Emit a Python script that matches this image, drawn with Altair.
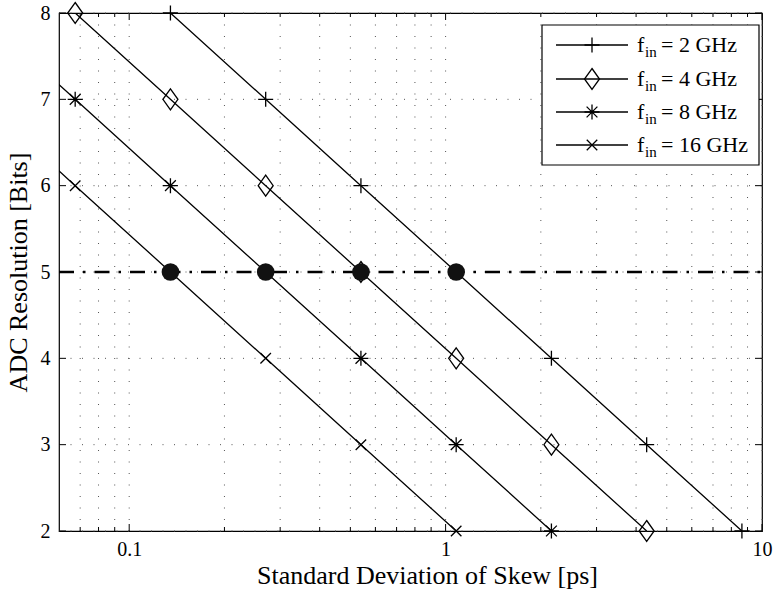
import altair as alt
import pandas as pd

# ---- data ----
bits = [2, 3, 4, 5, 6, 7, 8]
series_names = ["2 GHz", "4 GHz", "8 GHz", "16 GHz"]
skew_2ghz = [8.64, 4.32, 2.16, 1.08, 0.54, 0.27, 0.135]
skew_4ghz = [4.32, 2.16, 1.08, 0.54, 0.27, 0.135, 0.0675]
skew_8ghz = [2.16, 1.08, 0.54, 0.27, 0.135, 0.0675, 0.0338]
skew_16ghz = [1.08, 0.54, 0.27, 0.135, 0.0675, 0.0338, 0.0169]
target_bits = 5
target_skew = [0.135, 0.27, 0.54, 1.08]

x_major = [0.1, 1, 10]
x_minor = [0.07, 0.08, 0.09, 0.2, 0.3, 0.4, 0.5, 0.6, 0.7, 0.8, 0.9,
           2, 3, 4, 5, 6, 7, 8, 9]
y_ticks = [2, 3, 4, 5, 6, 7, 8]

X_MIN, X_MAX = 0.06, 10
W, H = 703, 518
FONT = "Liberation Serif"

# marker shapes (SVG paths, MATLAB-like)
PLUS = "M-1,0L1,0M0,-1L0,1"
DIAMOND = "M0,-1.4L1,0L0,1.4L-1,0Z"
STAR = "M-1,0L1,0M0,-1L0,1M-0.72,-0.72L0.72,0.72M-0.72,0.72L0.72,-0.72"
XMARK = "M-0.7,-0.7L0.7,0.7M-0.7,0.7L0.7,-0.7"
shapes = [PLUS, DIAMOND, STAR, XMARK]

rows = []
for name, xs in zip(series_names, [skew_2ghz, skew_4ghz, skew_8ghz, skew_16ghz]):
    for b, s in zip(bits, xs):
        rows.append({"series": name, "bits": b, "skew": s})
df = pd.DataFrame(rows)

xscale = alt.Scale(type="log", domain=[X_MIN, X_MAX], nice=False)
yscale = alt.Scale(domain=[2, 8], nice=False, zero=False)

x_enc = alt.X("skew:Q", scale=xscale,
              axis=alt.Axis(values=x_major, format="~g", grid=False, ticks=False,
                            domain=False, labelFontSize=20, labelFont=FONT,
                            labelColor="black", labelPadding=8, labelFlush=False,
                            title="Standard Deviation of Skew [ps]",
                            titleFont=FONT, titleFontSize=26,
                            titleFontWeight="normal", titleColor="black",
                            titlePadding=3, titleX=368, titleAlign="center"))
y_enc = alt.Y("bits:Q", scale=yscale,
              axis=alt.Axis(values=y_ticks, format="d", grid=False, ticks=False,
                            domain=False, labelFontSize=20, labelFont=FONT,
                            labelColor="black", labelPadding=9, labelFlush=False,
                            title="ADC Resolution [Bits]",
                            titleFont=FONT, titleFontSize=26,
                            titleFontWeight="normal", titleColor="black",
                            titlePadding=9))

# grid
gx = pd.DataFrame({"skew": x_major + x_minor})
gy = pd.DataFrame({"bits": y_ticks})
grid_dash = [1, 10.5]
grid_x = alt.Chart(gx).mark_rule(color="#555", strokeWidth=1, strokeDash=grid_dash).encode(
    x=alt.X("skew:Q", scale=xscale), y=alt.value(0), y2=alt.value(H))
grid_y = alt.Chart(gy).mark_rule(color="#555", strokeWidth=1, strokeDash=grid_dash).encode(
    y=alt.Y("bits:Q", scale=yscale), x=alt.value(0), x2=alt.value(W))

# inward ticks
tmaj = pd.DataFrame({"skew": x_major})
tmin = pd.DataFrame({"skew": x_minor})
tick_layers = []
for d, ln in [(tmaj, 7), (tmin, 4)]:
    tick_layers.append(alt.Chart(d).mark_rule(color="black", strokeWidth=1).encode(
        x=alt.X("skew:Q", scale=xscale), y=alt.value(H), y2=alt.value(H - ln)))
    tick_layers.append(alt.Chart(d).mark_rule(color="black", strokeWidth=1).encode(
        x=alt.X("skew:Q", scale=xscale), y=alt.value(0), y2=alt.value(ln)))
tick_layers.append(alt.Chart(gy).mark_rule(color="black", strokeWidth=1).encode(
    y=alt.Y("bits:Q", scale=yscale), x=alt.value(0), x2=alt.value(7)))
tick_layers.append(alt.Chart(gy).mark_rule(color="black", strokeWidth=1).encode(
    y=alt.Y("bits:Q", scale=yscale), x=alt.value(W), x2=alt.value(W - 7)))

# dash-dot line at 5 bits
hline = alt.Chart(pd.DataFrame({"bits": [target_bits]})).mark_rule(
    color="black", strokeWidth=2.4, strokeDash=[15, 9, 2.5, 9]).encode(
    y=alt.Y("bits:Q", scale=yscale), x=alt.value(0), x2=alt.value(W))

base = alt.Chart(df)
lines = base.mark_line(color="black", strokeWidth=1.3, clip=True).encode(
    x=x_enc, y=y_enc, detail="series:N", order="bits:Q")
points = base.transform_filter(alt.datum.skew >= X_MIN).mark_point(
    filled=False, color="black", strokeWidth=1.3, size=225, opacity=1).encode(
    x=alt.X("skew:Q", scale=xscale), y=alt.Y("bits:Q", scale=yscale),
    shape=alt.Shape("series:N", scale=alt.Scale(domain=series_names, range=shapes),
                    legend=None))

dots = alt.Chart(pd.DataFrame({"skew": target_skew, "bits": [target_bits] * 4})).mark_point(
    filled=True, color="#111", size=310, shape="circle", opacity=1).encode(
    x=alt.X("skew:Q", scale=xscale), y=alt.Y("bits:Q", scale=yscale))

# custom legend (with subscript)
LX0, LX1, LY0, LY1 = 483, 700, 12, 152
legend_layers = [alt.Chart(pd.DataFrame({"a": [0]})).mark_rect(
    fill="white", stroke="black", strokeWidth=1.2).encode(
    x=alt.value(LX0), x2=alt.value(LX1), y=alt.value(LY0), y2=alt.value(LY1))]
row_y = [32, 66, 99, 132]
for name, shp, yy in zip(series_names, shapes, row_y):
    d = pd.DataFrame({"label": ["= " + name], "f": ["f"], "sub": ["in"]})
    c = alt.Chart(d)
    legend_layers.append(c.mark_rule(color="black", strokeWidth=1.3).encode(
        x=alt.value(497), x2=alt.value(569), y=alt.value(yy)))
    legend_layers.append(c.mark_point(filled=False, color="black", strokeWidth=1.3,
                                      size=225, shape=shp, opacity=1).encode(
        x=alt.value(533), y=alt.value(yy)))
    legend_layers.append(c.mark_text(font=FONT, fontSize=22, align="left",
                                     baseline="middle", color="black").encode(
        x=alt.value(578), y=alt.value(yy), text="f:N"))
    legend_layers.append(c.mark_text(font=FONT, fontSize=15, align="left",
                                     baseline="middle", color="black").encode(
        x=alt.value(586), y=alt.value(yy + 7), text="sub:N"))
    legend_layers.append(c.mark_text(font=FONT, fontSize=22, align="left",
                                     baseline="middle", color="black").encode(
        x=alt.value(602), y=alt.value(yy), text="label:N"))

chart = alt.layer(
    grid_x, grid_y, *tick_layers, lines, hline, points, dots, *legend_layers
).properties(
    width=W, height=H,
    autosize=alt.AutoSizeParams(type="none"),
    padding={"left": 59, "top": 13, "right": 12, "bottom": 62},
    background="white",
).configure_view(stroke="black", strokeWidth=1.2)

chart.save("out.html", embed_options={"renderer": "svg", "actions": False})
